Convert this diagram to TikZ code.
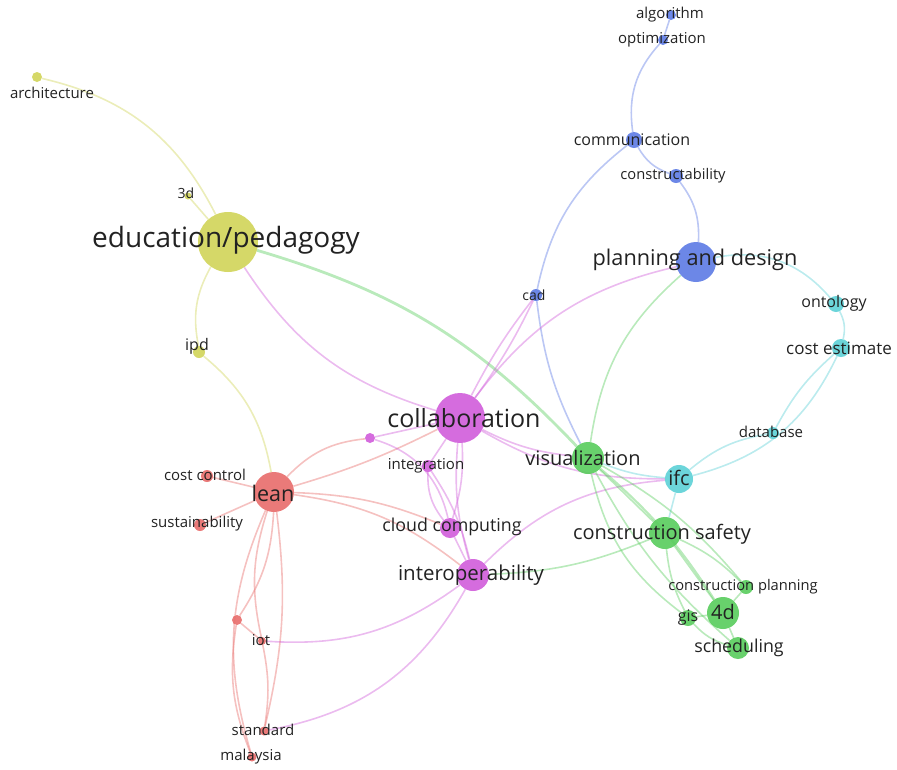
\documentclass[tikz,border=0pt]{standalone}
\usepackage{fontspec}
\setmainfont{Open Sans}
\usetikzlibrary{backgrounds}

\definecolor{ycol}{RGB}{208,212,88}
\definecolor{bcol}{RGB}{92,122,228}
\definecolor{ccol}{RGB}{92,208,214}
\definecolor{gcol}{RGB}{88,204,92}
\definecolor{pcol}{RGB}{208,92,218}
\definecolor{rcol}{RGB}{232,108,106}
\definecolor{tcol}{RGB}{34,34,34}

\begin{document}
\begin{tikzpicture}[x=1pt,y=-1pt]
\useasboundingbox (0,0) rectangle (897,769);

% keyword circles
\begin{scope}[every node/.style={circle,inner sep=0pt,opacity=0.9}]
    \node[fill=ycol,minimum size=10pt] (arch) at (37,77) {};
    \node[fill=ycol,minimum size=7pt]  (d3) at (188,196) {};
    \node[fill=ycol,minimum size=60pt] (edu) at (228,242) {};
    \node[fill=ycol,minimum size=12pt] (ipd) at (199,352) {};

    \node[fill=rcol,minimum size=40pt] (lean) at (274,492) {};
    \node[fill=rcol,minimum size=12pt] (costc) at (207,476) {};
    \node[fill=rcol,minimum size=12pt] (sust) at (200,525) {};
    \node[fill=rcol,minimum size=10pt] (rdot) at (237,620) {};
    \node[fill=rcol,minimum size=8pt]  (iot) at (262,641) {};
    \node[fill=rcol,minimum size=9pt]  (std) at (264,731) {};
    \node[fill=rcol,minimum size=9pt]  (mal) at (252,757) {};

    \node[fill=pcol,minimum size=50pt] (collab) at (460,418) {};
    \node[fill=pcol,minimum size=10pt] (pdot) at (370,438) {};
    \node[fill=pcol,minimum size=12pt] (integ) at (428,466) {};
    \node[fill=pcol,minimum size=20pt] (cloud) at (450,528) {};
    \node[fill=pcol,minimum size=32pt] (interop) at (473,575) {};

    \node[fill=bcol,minimum size=12pt] (cad) at (536,295) {};
    \node[fill=bcol,minimum size=10pt] (algo) at (671,15) {};
    \node[fill=bcol,minimum size=10pt] (optim) at (663,40) {};
    \node[fill=bcol,minimum size=16pt] (comm) at (634,140) {};
    \node[fill=bcol,minimum size=14pt] (cstab) at (676,176) {};
    \node[fill=bcol,minimum size=40pt] (plan) at (696,262) {};

    \node[fill=ccol,minimum size=16pt] (onto) at (836,304) {};
    \node[fill=ccol,minimum size=18pt] (coste) at (841,348) {};
    \node[fill=ccol,minimum size=12pt] (dbase) at (773,433) {};
    \node[fill=ccol,minimum size=28pt] (ifc) at (679,479) {};

    \node[fill=gcol,minimum size=32pt] (visu) at (588,458) {};
    \node[fill=gcol,minimum size=32pt] (csafe) at (665,533) {};
    \node[fill=gcol,minimum size=14pt] (cplan) at (746,587) {};
    \node[fill=gcol,minimum size=32pt] (fourd) at (723,613) {};
    \node[fill=gcol,minimum size=16pt] (gis) at (688,618) {};
    \node[fill=gcol,minimum size=22pt] (sched) at (738,648) {};
\end{scope}

% links
\begin{scope}[on background layer,
              ye/.style={draw=ycol},be/.style={draw=bcol},ce/.style={draw=ccol},
              ge/.style={draw=gcol},pe/.style={draw=pcol},re/.style={draw=rcol},
              every edge/.style={line width=1.6pt,draw opacity=0.42}]
    \path (arch) edge[ye,bend left=25] (edu);
    \path (d3) edge[ye] (edu);
    \path (edu) edge[ye,bend right=20] (ipd);
    \path (ipd) edge[ye,bend left=20] (lean);
    \path (edu) edge[pe,bend right=20] (collab);
    \path (edu) edge[ge,line width=2.8pt,bend left=15] (visu);

    \path (lean) edge[re] (costc);
    \path (lean) edge[re] (sust);
    \path (lean) edge[re,bend right=5] (collab);
    \path (lean) edge[re,bend left=20] (pdot);
    \path (lean) edge[re,bend left=15] (interop);
    \path (lean) edge[re,bend left=10] (cloud);
    \path (lean) edge[re,bend left=15] (rdot);
    \path (lean) edge[re,bend right=15] (iot);
    \path (lean) edge[re,bend left=10] (std);
    \path (lean) edge[re,bend right=20] (mal);
    \path (rdot) edge[re] (iot);
    \path (rdot) edge[re,bend right=15] (mal);
    \path (iot) edge[re,bend left=10] (std);

    \path (pdot) edge[pe] (collab);
    \path (pdot) edge[pe,bend left=30] (cloud);
    \path (collab) edge[pe] (integ);
    \path (collab) edge[pe,bend left=10] (cloud);
    \path (collab) edge[pe,bend right=10] (interop);
    \path (integ) edge[pe,bend right=20] (cloud);
    \path (integ) edge[pe,bend left=10] (interop);
    \path (cloud) edge[pe] (interop);
    \path (collab) edge[pe,bend right=10] (visu);
    \path (collab) edge[pe,bend right=15] (ifc);
    \path (interop) edge[pe,bend left=20] (iot);
    \path (interop) edge[pe,bend left=25] (std);
    \path (interop) edge[pe,bend left=20] (ifc);
    \path (interop) edge[ge,bend right=10] (csafe);

    \path (algo) edge[be] (optim);
    \path (optim) edge[be,bend right=25] (comm);
    \path (comm) edge[be,bend right=20] (cstab);
    \path (cstab) edge[be,bend left=20] (plan);
    \path (comm) edge[be,bend right=20] (cad);
    \path (cad) edge[be,bend right=10] (visu);
    \path (cad) edge[pe,bend right=5] (collab);
    \path (cad) edge[pe,bend left=5] (collab);
    \path (plan) edge[pe,bend right=20] (collab);
    \path (plan) edge[ge,bend right=20] (visu);

    \path (plan) edge[ce,bend left=30] (onto);
    \path (onto) edge[ce,bend left=20] (coste);
    \path (coste) edge[ce,bend right=10] (dbase);
    \path (coste) edge[ce,bend left=25] (ifc);
    \path (dbase) edge[ce,bend right=15] (ifc);
    \path (ifc) edge[ce,bend left=8] (visu);
    \path (ifc) edge[ce] (csafe);

    \path (visu) edge[ge] (csafe);
    \path (visu) edge[ge,line width=2.2pt,bend left=8] (fourd);
    \path (visu) edge[ge,bend right=20] (gis);
    \path (visu) edge[ge,bend right=10] (sched);
    \path (visu) edge[ge,bend left=10] (cplan);
    \path (csafe) edge[ge] (fourd);
    \path (csafe) edge[ge,bend right=10] (gis);
    \path (csafe) edge[ge,bend left=10] (cplan);
    \path (fourd) edge[ge] (gis);
    \path (fourd) edge[ge] (sched);
    \path (fourd) edge[ge] (cplan);
    \path (gis) edge[ge,bend right=15] (sched);
\end{scope}

% keyword labels
\begin{scope}[every node/.style={text=tcol,inner sep=0pt},
              fs/.style={font=\fontsize{#1}{#1}\selectfont}]
    \node[fs=15] (arch-l) at (52,93) {architecture};
    \node[fs=14] (d3-l) at (186,193) {3d};
    \node[fs=28] (edu-l) at (226,240) {education/pedagogy};
    \node[fs=16] (ipd-l) at (197,346) {ipd};

    \node[fs=21.5] (lean-l) at (273,493) {lean};
    \node[fs=15] (costc-l) at (205,475) {cost control};
    \node[fs=15] (sust-l) at (197,524) {sustainability};
    \node[fs=15] (iot-l) at (261,640) {iot};
    \node[fs=15] (std-l) at (263,730) {standard};
    \node[fs=15] (mal-l) at (251,757) {malaysia};

    \node[fs=25] (collab-l) at (464,418) {collaboration};
    \node[fs=15] (integ-l) at (426,466) {integration};
    \node[fs=17.8] (cloud-l) at (452,527) {cloud computing};
    \node[fs=20.5] (interop-l) at (471,575) {interoperability};

    \node[fs=14] (cad-l) at (534,295) {cad};
    \node[fs=15] (algo-l) at (670,15) {algorithm};
    \node[fs=15] (optim-l) at (662,40) {optimization};
    \node[fs=16] (comm-l) at (632,140) {communication};
    \node[fs=14.7] (cstab-l) at (673,176) {constructability};
    \node[fs=21.7] (plan-l) at (695,260) {planning and design};

    \node[fs=16] (onto-l) at (834,303) {ontology};
    \node[fs=17] (coste-l) at (839,348) {cost estimate};
    \node[fs=15] (dbase-l) at (771,432) {database};
    \node[fs=20] (ifc-l) at (679,478) {ifc};

    \node[fs=20] (visu-l) at (583,458) {visualization};
    \node[fs=20] (csafe-l) at (662,534) {construction safety};
    \node[fs=14.7] (cplan-l) at (743,587) {construction planning};
    \node[fs=20] (fourd-l) at (723,612) {4d};
    \node[fs=16] (gis-l) at (688,618) {gis};
    \node[fs=17.8] (sched-l) at (739,648) {scheduling};
\end{scope}
\end{tikzpicture}
\end{document}
